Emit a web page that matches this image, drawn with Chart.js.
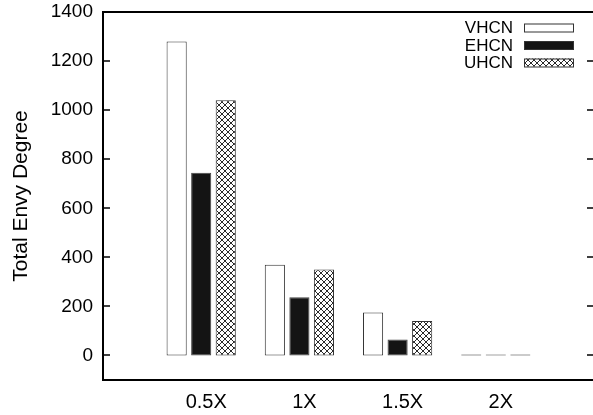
<!DOCTYPE html>
<html>
<head>
<meta charset="utf-8">
<script src="https://cdn.jsdelivr.net/npm/chart.js@4/dist/chart.umd.min.js"></script>
<style>
html,body{margin:0;padding:0;background:#fff;}
#wrap{width:593px;height:415px;overflow:hidden;position:relative;}
canvas{display:block;}
</style>
</head>
<body>
<div id="wrap"><canvas id="c" width="600" height="415" style="width:600px;height:415px"></canvas></div>
<script>
const categories = ['0.5X', '1X', '1.5X', '2X'];
const seriesNames = ['VHCN', 'EHCN', 'UHCN'];
const vhcn = [1280, 370, 175, 4];
const ehcn = [745, 237, 65, 4];
const uhcn = [1040, 350, 140, 4];
const yTicks = [0, 200, 400, 600, 800, 1000, 1200, 1400];
const yTitle = 'Total Envy Degree';

const FONT = '"Liberation Sans", Arial, Helvetica, sans-serif';
Chart.defaults.color = '#000';
Chart.defaults.font.family = FONT;

function hatchPattern() {
  const t = document.createElement('canvas');
  t.width = 6; t.height = 6;
  const g = t.getContext('2d');
  g.fillStyle = '#fff';
  g.fillRect(0, 0, 6, 6);
  g.strokeStyle = '#2a2a2a';
  g.lineWidth = 1;
  g.beginPath();
  g.moveTo(-1, -1); g.lineTo(7, 7);
  g.moveTo(7, -1); g.lineTo(-1, 7);
  g.stroke();
  return document.getElementById('c').getContext('2d').createPattern(t, 'repeat');
}

const pad = arr => [null, ...arr, null];
const labels = ['', ...categories, ''];

const framePlugin = {
  id: 'frame',
  afterDatasetsDraw(chart) {
    const { ctx, chartArea: a, scales: { y } } = chart;
    ctx.save();
    ctx.strokeStyle = '#000';
    ctx.lineWidth = 2;
    ctx.strokeRect(a.left, a.top, a.right - a.left, a.bottom - a.top);
    ctx.lineWidth = 1.5;
    yTicks.forEach(v => {
      const py = Math.round(y.getPixelForValue(v));
      ctx.beginPath();
      ctx.moveTo(a.left, py); ctx.lineTo(a.left + 7, py);
      ctx.moveTo(a.right, py); ctx.lineTo(a.right - 7, py);
      ctx.stroke();
    });
    // legend
    ctx.font = '17px ' + FONT;
    ctx.textAlign = 'right';
    ctx.textBaseline = 'middle';
    const rows = [27.5, 45, 62.5];
    chart.data.datasets.forEach((ds, i) => {
      const ry = rows[i];
      ctx.fillStyle = '#000';
      ctx.fillText(ds.label, 513, ry + 1);
      ctx.fillStyle = ds.backgroundColor;
      ctx.fillRect(524, ry - 4, 50, 8);
      ctx.strokeStyle = '#333';
      ctx.lineWidth = 1;
      ctx.strokeRect(524.5, ry - 3.5, 49, 8);
    });
    ctx.restore();
  }
};

const ctx = document.getElementById('c').getContext('2d');
new Chart(ctx, {
  type: 'bar',
  data: {
    labels: labels,
    datasets: [
      { label: seriesNames[0], data: pad(vhcn), backgroundColor: '#ffffff', borderColor: '#333', borderWidth: 1, borderSkipped: false },
      { label: seriesNames[1], data: pad(ehcn), backgroundColor: '#141414', borderColor: '#444', borderWidth: 1, borderSkipped: false },
      { label: seriesNames[2], data: pad(uhcn), backgroundColor: hatchPattern(), borderColor: '#333', borderWidth: 1, borderSkipped: false }
    ]
  },
  options: {
    responsive: false,
    animation: false,
    categoryPercentage: 0.75,
    barPercentage: 0.82,
    layout: { padding: { top: 12, right: 6, bottom: 0, left: 0 } },
    plugins: { legend: { display: false }, tooltip: { enabled: false } },
    scales: {
      x: {
        offset: false,
        grid: { display: false, drawTicks: false, tickLength: 0 },
        border: { display: false },
        ticks: { font: { size: 20 }, padding: 10, labelOffset: 5, autoSkip: false, maxRotation: 0 },
        afterFit(s) { s.height = 35; s.paddingLeft = 0; s.paddingRight = 0; }
      },
      y: {
        min: -100,
        max: 1400,
        grid: { display: false, drawTicks: false, tickLength: 0 },
        border: { display: false },
        ticks: { font: { size: 19 }, padding: 10, callback: v => String(v) },
        afterBuildTicks(s) { s.ticks = yTicks.map(v => ({ value: v })); },
        afterFit(s) { s.width = 103; s.paddingTop = 0; s.paddingBottom = 0; },
        title: { display: true, text: yTitle, font: { size: 21 }, padding: { top: 9, bottom: 0 } }
      }
    }
  },
  plugins: [framePlugin]
});
</script>
</body>
</html>
